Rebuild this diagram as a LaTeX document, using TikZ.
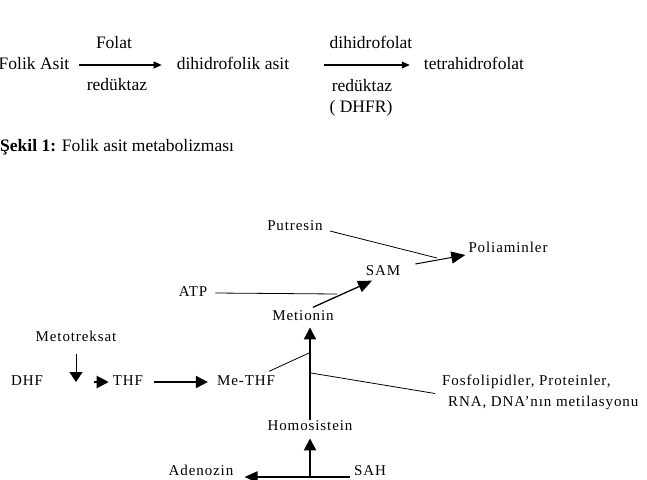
\documentclass[tikz,border=0pt]{standalone}
\usepackage{fontspec}
\setmainfont{Liberation Serif}
\newfontfamily\pathwayfont[LetterSpace=6]{Liberation Serif}
\usetikzlibrary{arrows.meta}

\begin{document}
\begin{tikzpicture}[x=1pt,y=-1pt,
  rxn/.style={inner sep=0pt,font=\fontsize{17.5}{20}\selectfont,text height=12pt,text depth=3.5pt},
  metbase/.style={inner sep=0pt,font=\pathwayfont\fontsize{15}{21}\selectfont},
  met/.style={metbase,text height=10pt,text depth=3pt},
  react/.style={-{Triangle[length=8pt,width=7pt]},line width=1.2pt},
  link/.style={line width=0.8pt},
  pull/.style={-{Triangle[length=14pt,width=12pt]},line width=1.3pt},
  heavy/.style={-{Triangle[length=12pt,width=12pt]},line width=2pt}
]
  \useasboundingbox (0,0) rectangle (647,479);

  % folik asit -> tetrahidrofolat
  \node[rxn] (folik) at (34,65) {Folik Asit};
  \node[rxn] (dhfa) at (233,65) {dihidrofolik asit};
  \node[rxn] (thfa) at (474,65) {tetrahidrofolat};
  \node[rxn] (folat) at (114,44) {Folat};
  \node[rxn] (red1) at (117,86) {redüktaz};
  \node[rxn] (dhfol) at (371,44) {dihidrofolat};
  \node[rxn] (red2) at (362,87) {redüktaz};
  \node[rxn] (dhfr) at (361,108) {( DHFR)};

  \path[react]
    (folik) edge[shorten <=10pt,shorten >=15pt] (dhfa)
    (dhfa) edge[shorten <=35pt,shorten >=14pt] (thfa);

  \node[anchor=west,inner sep=0pt,font=\fontsize{17.5}{20}\selectfont] (caption) at (0,147)
    {\textbf{Şekil 1:} Folik asit metabolizması};

  % metionin dongusu
  \node[met] (putresin) at (295,227) {Putresin};
  \node[met] (poli) at (508,249) {Poliaminler};
  \node[met] (sam) at (383,272) {SAM};
  \node[met] (atp) at (193,293) {ATP};
  \node[met] (metionin) at (303,317) {Metionin};
  \node[met] (mtx) at (76,338) {Metotreksat};
  \node[met] (dhf) at (27,382) {DHF};
  \node[met] (thf) at (128,382) {THF};
  \node[met] (methf) at (246,382) {Me-THF};
  \node[metbase,anchor=west,align=left] (fosfo) at (442,392.5)
    {Fosfolipidler, Proteinler,\\\hspace{6pt}RNA, DNA’nın metilasyonu};
  \node[met] (homo) at (310,427) {Homosistein};
  \node[met] (adenozin) at (201,472) {Adenozin};
  \node[met] (sah) at (370,472) {SAH};

  \coordinate (putend) at (437,258);
  \coordinate (atpend) at (337,294);
  \coordinate (mtxhit) at (76,382);
  \coordinate (methfjoin) at (309,353);
  \coordinate (fosjoin) at (311,373);
  \coordinate (sahjoin) at (310,477);

  \draw[link] ([xshift=7pt,yshift=-4pt]putresin.east) -- (putend);
  \draw[link] ([xshift=8pt]atp.east) -- (atpend);
  \draw[link] ([xshift=-6pt,yshift=4pt]methf.north east) -- (methfjoin);
  \draw[link] (fosjoin) -- ([xshift=-7pt,yshift=-1pt]fosfo.west);
  \draw[pull] ([xshift=10pt,yshift=3pt]metionin.north) -- ([xshift=-11pt,yshift=-2pt]sam.south);
  \draw[pull,line width=1pt] ([xshift=15pt,yshift=8pt]sam.east) -- ([xshift=-3pt,yshift=-6pt]poli.west);
  \draw[link,-{Triangle[length=10pt,width=13pt]}] ([yshift=-9pt]mtx.south) -- (mtxhit);
  \draw[heavy] ([xshift=51pt]dhf.east) -- ([xshift=-4pt]thf.west);
  \draw[heavy,shorten <=11pt,shorten >=9pt] (thf) -- (methf);
  \draw[heavy,shorten >=3.75pt] (homo.north) -- (homo.north |- metionin.south);
  \draw[heavy,shorten >=4.75pt] (sahjoin) -- (homo.south);
  \draw[heavy,-{Triangle[length=13pt,width=11pt]}] ([xshift=-4pt,yshift=-5pt]sah.west) -- ([xshift=11pt,yshift=-5pt]adenozin.east);
\end{tikzpicture}
\end{document}
